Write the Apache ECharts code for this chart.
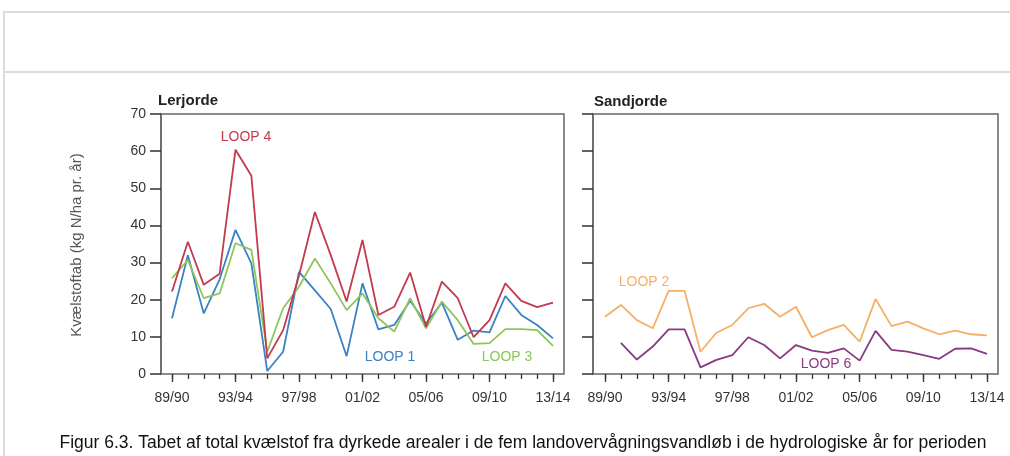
<!DOCTYPE html>
<html>
<head>
<meta charset="utf-8">
<script src="https://cdn.jsdelivr.net/npm/echarts@6/dist/echarts.min.js"></script>
<style>html,body{margin:0;padding:0;background:#fff}#c{width:1010px;height:456px}</style>
</head>
<body>
<div id="c"></div>
<script>
const years = ['89/90','90/91','91/92','92/93','93/94','94/95','95/96','96/97','97/98','98/99','99/00','00/01','01/02','02/03','03/04','04/05','05/06','06/07','07/08','08/09','09/10','10/11','11/12','12/13','13/14'];
const yTicks = [0,10,20,30,40,50,60,70];
// Lerjorde
const loop1 = [15.0,32.0,16.3,25.5,38.8,29.8,0.8,6.0,27.5,22.5,17.5,4.8,24.4,12.0,13.2,19.7,13.6,19.2,9.2,11.7,11.2,21.0,15.9,13.2,9.6];
const loop3 = [25.8,30.7,20.4,21.7,35.2,33.4,6.0,17.7,23.5,31.1,24.4,17.2,21.7,15.0,11.4,20.4,12.3,19.5,14.5,8.1,8.3,12.1,12.1,11.8,7.6];
const loop4 = [22.2,35.6,24.0,27.0,60.4,53.4,4.2,11.8,26.5,43.6,32.0,19.5,36.1,15.9,18.1,27.3,12.7,24.9,20.4,9.9,14.5,24.4,19.7,18.0,19.2];
// Sandjorde
const loop2 = [15.4,18.6,14.5,12.3,22.4,22.4,6.0,11.1,13.2,17.7,18.9,15.4,18.1,9.9,11.8,13.2,8.7,20.2,12.9,14.1,12.3,10.7,11.7,10.7,10.4];
const loop6 = [null,8.4,3.9,7.4,12.0,12.0,1.8,3.8,5.1,9.9,7.8,4.2,7.8,6.3,5.7,6.9,3.6,11.6,6.5,6.0,5.1,4.1,6.8,6.9,5.4];

const FONT = "'Liberation Sans Narrow','Arial Narrow','Liberation Sans',Arial,sans-serif";
const AX = '#666';
const C = {l1:'#3b82c4', l3:'#8dc65a', l4:'#c33a4e', l2:'#f5b067', l6:'#8a3a80'};

const chart = echarts.init(document.getElementById('c'), null, {renderer:'canvas'});

function frameY(withLabels){
  return {type:'value', min:0, max:70, interval:10, position:'left',
    axisLine:{show:true, lineStyle:{color:AX, width:1.5}},
    axisTick:{show:true, inside:false, length:11, lineStyle:{color:'#333', width:1.5}},
    axisLabel:{show:withLabels, color:'#333', fontSize:14, margin:15, fontFamily:FONT,
      formatter:v=> yTicks.includes(v) ? String(v) : ''},
    splitLine:{show:false}};
}
function frameX(gi){ return {type:'value', gridIndex:gi, min:0, max:1, show:false}; }
function catX(gi, major){
  return {type:'category', gridIndex:gi, data:years, boundaryGap:false, position:'bottom',
    axisLine:{show:false},
    axisTick:{show:true, interval: major?3:0, length: major?8:5, lineStyle:{color:'#333', width:1.3}},
    axisLabel:{show:!major, interval:3, color:'#333', fontSize:14, margin:17, fontFamily:FONT},
    splitLine:{show:false}};
}
function hidY(gi){ return {type:'value', gridIndex:gi, min:0, max:70, show:false}; }
function line(name, data, color, xi, yi){
  return {name, type:'line', data, xAxisIndex:xi, yAxisIndex:yi, symbol:'none', silent:true,
    lineStyle:{color, width:1.8}, connectNulls:false, z:3};
}

const option = {
  animation:false,
  grid:[
    {left:161, top:114, width:403, height:260, show:true, borderColor:AX, borderWidth:1.5},
    {left:172, top:114, width:381, height:260},
    {left:593, top:114, width:405, height:260, show:true, borderColor:AX, borderWidth:1.5},
    {left:605, top:114, width:382, height:260}
  ],
  xAxis:[frameX(0), catX(1,false), catX(1,true), frameX(2), catX(3,false), catX(3,true)],
  yAxis:[Object.assign(frameY(true),{gridIndex:0}), hidY(1), Object.assign(frameY(false),{gridIndex:2}), hidY(3)],
  series:[
    line('LOOP 1', loop1, C.l1, 1, 1),
    line('LOOP 3', loop3, C.l3, 1, 1),
    line('LOOP 4', loop4, C.l4, 1, 1),
    line('LOOP 2', loop2, C.l2, 4, 3),
    line('LOOP 6', loop6, C.l6, 4, 3)
  ],
  graphic:[
    {type:'line', shape:{x1:4,y1:12,x2:1010,y2:12}, style:{stroke:'#dcdcdc', lineWidth:2}},
    {type:'line', shape:{x1:4,y1:72,x2:1010,y2:72}, style:{stroke:'#dcdcdc', lineWidth:2}},
    {type:'line', shape:{x1:4,y1:11,x2:4,y2:456}, style:{stroke:'#dcdcdc', lineWidth:2}},
    {type:'text', left:158, top:93, style:{text:'Lerjorde', font:"bold 15px "+FONT, fill:'#222'}},
    {type:'text', left:594, top:94, style:{text:'Sandjorde', font:"bold 15px "+FONT, fill:'#222'}},
    {type:'text', x:77, y:245, rotation:Math.PI/2, style:{text:'Kvælstoftab (kg N/ha pr. år)', font:"15px "+FONT, fill:'#555', align:'center', verticalAlign:'middle'}},
    {type:'text', x:246, y:137, style:{text:'LOOP 4', font:"14px "+FONT, fill:C.l4, align:'center', verticalAlign:'middle'}},
    {type:'text', x:390, y:357, style:{text:'LOOP 1', font:"14px "+FONT, fill:C.l1, align:'center', verticalAlign:'middle'}},
    {type:'text', x:507, y:357, style:{text:'LOOP 3', font:"14px "+FONT, fill:C.l3, align:'center', verticalAlign:'middle'}},
    {type:'text', x:644, y:282, style:{text:'LOOP 2', font:"14px "+FONT, fill:C.l2, align:'center', verticalAlign:'middle'}},
    {type:'text', x:826, y:364, style:{text:'LOOP 6', font:"14px "+FONT, fill:C.l6, align:'center', verticalAlign:'middle'}},
    {type:'text', x:523, y:443, style:{text:'Figur 6.3. Tabet af total kvælstof fra dyrkede arealer i de fem landovervågningsvandløb i de hydrologiske år for perioden', font:"17.5px "+FONT, fill:'#111', align:'center', verticalAlign:'middle'}}
  ]
};
chart.setOption(option);
</script>
</body>
</html>
